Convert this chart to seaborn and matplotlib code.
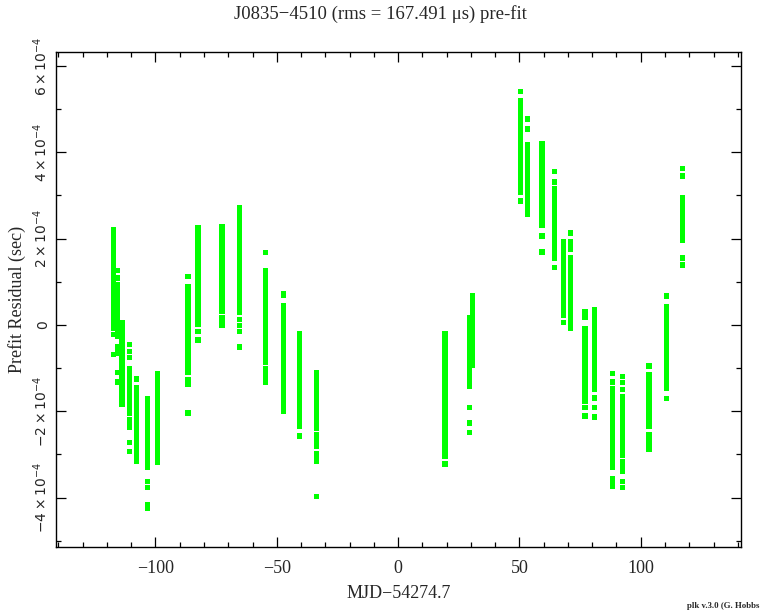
import matplotlib
matplotlib.use("Agg")
import matplotlib.pyplot as plt
from matplotlib.ticker import MultipleLocator, FuncFormatter
import numpy as np
import pandas as pd
import seaborn as sns

# Observing-session epochs (days relative to MJD 54274.7)
session_days = [-117.4, -115.6, -113.8, -110.7, -107.8, -103.4, -99.3, -86.6,
                -82.5, -72.6, -65.4, -54.6, -47.4, -40.6, -33.5,
                19.3, 29.3, 30.6, 50.6, 53.4, 59.3, 64.3, 68.2, 71.2,
                77.0, 80.9, 88.2, 92.6, 103.4, 110.5, 117.3]

# Pre-fit timing residuals per session, in microseconds
res_m117 = [222, 215, 208, 200, 193, 186, 178, 171, 163, 156, 148, 141, 134, 126, 119,
            111, 104, 96, 89, 82, 74, 67, 59, 52, 44, 37, 30, 22, 15, 7, 0, -7, -23, -69]
res_m116 = [127, 109, 93, 86, 78, 71, 63, 56, 48, 41, 33, 26, 18, 11, 3, -4, -12, -19,
            -27, -51, -58, -65, -111, -132]
res_m114 = [5, -5, -16, -28, -36, -44, -52, -60, -68, -76, -84, -92, -100, -108, -116,
            -124, -132, -140, -150, -157, -166, -175, -185]
res_m111 = [-46, -62, -76, -100, -108, -116, -124, -132, -140, -148, -156, -164, -172,
            -180, -188, -196, -204, -220, -229, -238, -273, -294]
res_m108 = [-125, -146, -154, -162, -170, -181, -194, -204, -212, -220, -228, -236, -244,
            -252, -260, -268, -276, -284, -292, -300, -308, -317]
res_m103 = [-171, -179, -187, -195, -203, -211, -219, -227, -235, -243, -251, -259, -267,
            -275, -283, -291, -299, -307, -315, -323, -331, -363, -377, -417, -424]
res_m99 = [-113, -121, -129, -137, -145, -153, -161, -169, -177, -185, -193, -201, -209,
           -217, -225, -233, -241, -249, -257, -265, -273, -281, -289, -297, -305, -313, -319]
res_m87 = [113, 88, 74, 65, 57, 49, 41, 33, 25, 17, 9, 1, -7, -15, -23, -31, -39, -47,
           -55, -63, -71, -79, -87, -95, -103, -111, -127, -137, -204]
res_m83 = [225, 217, 209, 201, 193, 185, 177, 169, 161, 153, 145, 137, 129, 121, 113, 105,
           97, 89, 81, 73, 65, 57, 49, 41, 33, 25, 17, 9, 1, -16, -35]
res_m73 = [229, 220, 212, 204, 196, 188, 180, 172, 164, 156, 148, 140, 132, 124, 116, 108,
           100, 92, 84, 76, 68, 60, 52, 44, 36, 32, 16, 8, 0]
res_m65 = [271, 262, 250, 243, 238, 230, 222, 214, 206, 198, 190, 182, 174, 166, 158, 150,
           142, 134, 126, 118, 110, 102, 94, 86, 78, 70, 62, 54, 46, 38, 28, 12, -2, -16, -51]
res_m55 = [167, 127, 119, 111, 103, 95, 87, 79, 71, 63, 55, 47, 39, 31, 23, 15, 7, -1, -9,
           -17, -25, -33, -41, -49, -57, -66, -74, -86, -100, -112, -123, -132]
res_m47 = [73, 69, 44, 31, 23, 15, 7, -1, -9, -17, -25, -33, -41, -49, -57, -65, -73, -81,
           -89, -97, -105, -113, -121, -129, -137, -145, -153, -161, -169, -174, -182, -191, -200]
res_m41 = [-19, -27, -35, -43, -51, -59, -67, -75, -83, -91, -99, -107, -115, -123, -131,
           -139, -147, -155, -163, -171, -179, -187, -195, -203, -211, -219, -225, -236, -257]
res_m34 = [-110, -120, -128, -136, -144, -152, -160, -168, -176, -184, -192, -200, -208,
           -216, -224, -232, -240, -254, -262, -270, -276, -282, -297, -305, -317, -397]
res_p19 = [-20, -28, -36, -44, -52, -60, -68, -76, -84, -92, -100, -108, -116, -124, -132,
           -140, -148, -156, -164, -172, -180, -188, -196, -204, -212, -220, -228, -236,
           -244, -252, -260, -268, -276, -284, -292, -300, -305, -322]
res_p29 = [18, 12, 4, -4, -12, -20, -28, -36, -44, -52, -60, -68, -76, -84, -92, -100,
           -108, -116, -124, -132, -143, -192, -227, -250]
res_p31 = [69, 61, 53, 45, 37, 28, 20, 12, 4, -4, -12, -20, -28, -36, -44, -52, -60, -68,
           -76, -84, -93]
res_p51 = [540, 519, 505, 497, 489, 481, 473, 465, 457, 449, 441, 433, 425, 417, 409, 401,
           393, 385, 377, 369, 361, 353, 345, 337, 331, 319, 306, 287]
res_p53 = [477, 454, 417, 405, 397, 389, 381, 373, 365, 357, 349, 341, 333, 325, 317, 306,
           296, 288, 280, 271, 263, 255]
res_p59 = [421, 413, 405, 397, 389, 381, 373, 365, 357, 349, 341, 333, 325, 317, 309, 301,
           293, 285, 277, 269, 261, 253, 245, 238, 231, 206, 169]
res_p64 = [356, 331, 315, 307, 299, 291, 283, 275, 267, 259, 251, 243, 235, 227, 219, 211,
           203, 195, 190, 183, 169, 162, 155, 134]
res_p68 = [192, 184, 176, 168, 160, 152, 144, 136, 128, 120, 112, 104, 96, 88, 76, 67, 58,
           51, 43, 35, 27, 23, 5]
res_p71 = [213, 192, 183, 174, 157, 149, 141, 133, 125, 117, 109, 101, 93, 85, 77, 69, 61,
           53, 45, 37, 29, 21, 13, 5, -3, -7]
res_p77 = [30, 18, -9, -17, -25, -33, -41, -49, -57, -65, -73, -81, -89, -97, -105, -113,
           -121, -129, -137, -145, -150, -157, -167, -178, -192, -211]
res_p81 = [35, 27, 19, 11, 3, -5, -13, -21, -29, -37, -45, -53, -61, -69, -77, -85, -93,
           -101, -109, -117, -125, -133, -141, -150, -169, -192, -213]
res_p88 = [-113, -132, -148, -156, -164, -172, -180, -188, -196, -204, -212, -220, -228,
           -236, -244, -252, -260, -268, -276, -284, -292, -300, -308, -319, -331, -356,
           -364, -373]
res_p93 = [-120, -134, -150, -167, -175, -183, -191, -199, -207, -215, -223, -231, -239,
           -247, -255, -263, -271, -279, -287, -296, -303, -317, -329, -340, -363, -377]
res_p103 = [-95, -116, -124, -132, -140, -148, -156, -164, -172, -180, -188, -196, -204,
            -212, -220, -228, -236, -255, -266, -278, -289]
res_p111 = [67, 42, 34, 26, 18, 10, 2, -6, -14, -22, -30, -38, -46, -54, -62, -70, -78,
            -86, -94, -102, -110, -120, -127, -137, -146, -171]
res_p117 = [363, 345, 294, 286, 278, 270, 262, 254, 246, 238, 230, 222, 214, 206, 197,
            155, 139]

session_residuals = [res_m117, res_m116, res_m114, res_m111, res_m108, res_m103, res_m99,
                     res_m87, res_m83, res_m73, res_m65, res_m55, res_m47, res_m41, res_m34,
                     res_p19, res_p29, res_p31, res_p51, res_p53, res_p59, res_p64, res_p68,
                     res_p71, res_p77, res_p81, res_p88, res_p93, res_p103, res_p111, res_p117]

rows = []
for day, res in zip(session_days, session_residuals):
    for r in res:
        rows.append((day, r * 1e-6))
df = pd.DataFrame(rows, columns=["mjd", "resid"])

sns.set_theme(style="white")
plt.rcParams["font.family"] = ["DejaVu Sans"]
serif = ["Liberation Serif", "DejaVu Serif"]

fig = plt.figure(figsize=(7.61, 6.13), dpi=100)
ax = fig.add_axes([56 / 761, 1 - 547.3 / 613, (740.7 - 56) / 761, (547.3 - 51.7) / 613])

sns.scatterplot(data=df, x="mjd", y="resid", ax=ax, marker="s", s=14,
                color="#00ff00", linewidth=0, edgecolor="none", legend=False)

ax.set_xlim(-141, 141.2)
ax.set_ylim(-5.15e-4, 6.33e-4)

for sp in ax.spines.values():
    sp.set_color("black")
    sp.set_linewidth(1.0)
    sp.set_visible(True)

ax.xaxis.set_major_locator(MultipleLocator(50))
ax.xaxis.set_minor_locator(MultipleLocator(10))
ax.yaxis.set_major_locator(MultipleLocator(2e-4))
ax.yaxis.set_minor_locator(MultipleLocator(1e-4))

ax.tick_params(which="both", direction="in", top=True, right=True, bottom=True, left=True,
               color="black", width=0.9)
ax.tick_params(which="major", length=7)
ax.tick_params(which="minor", length=3.5)
ax.tick_params(axis="x", which="major", pad=9, labelsize=13)
ax.tick_params(axis="y", which="major", pad=4, labelsize=10, labelrotation=90)


def xfmt(v, pos):
    v = int(round(v))
    return f"\u2212{abs(v)}" if v < 0 else f"{v}"


def yfmt(v, pos):
    m = int(round(v / 1e-4))
    if m == 0:
        return "0"
    sign = "-" if m < 0 else ""
    return rf"${sign}{abs(m)}\times10^{{-4}}$"


ax.xaxis.set_major_formatter(FuncFormatter(xfmt))
ax.yaxis.set_major_formatter(FuncFormatter(yfmt))
for lab in ax.get_xticklabels():
    lab.set_fontfamily(serif)
for lab in ax.get_yticklabels():
    lab.set_verticalalignment("center")

ax.set_xlabel("MJD\u221254274.7", fontfamily=serif, fontsize=13, labelpad=6)
ax.set_ylabel("Prefit Residual (sec)", fontfamily=serif, fontsize=13, labelpad=4)

fig.text(0.5, 1 - 14 / 613, "J0835\u22124510 (rms = 167.491 \u03bcs) pre-fit",
         fontfamily=serif, fontsize=13.5, ha="center", va="center")
fig.text(759 / 761, 1 - 606 / 613, "plk v.3.0 (G. Hobbs", fontfamily=serif,
         fontsize=6.3, fontweight="bold", ha="right", va="center")

fig.savefig("out.png", dpi=100, facecolor="white")
